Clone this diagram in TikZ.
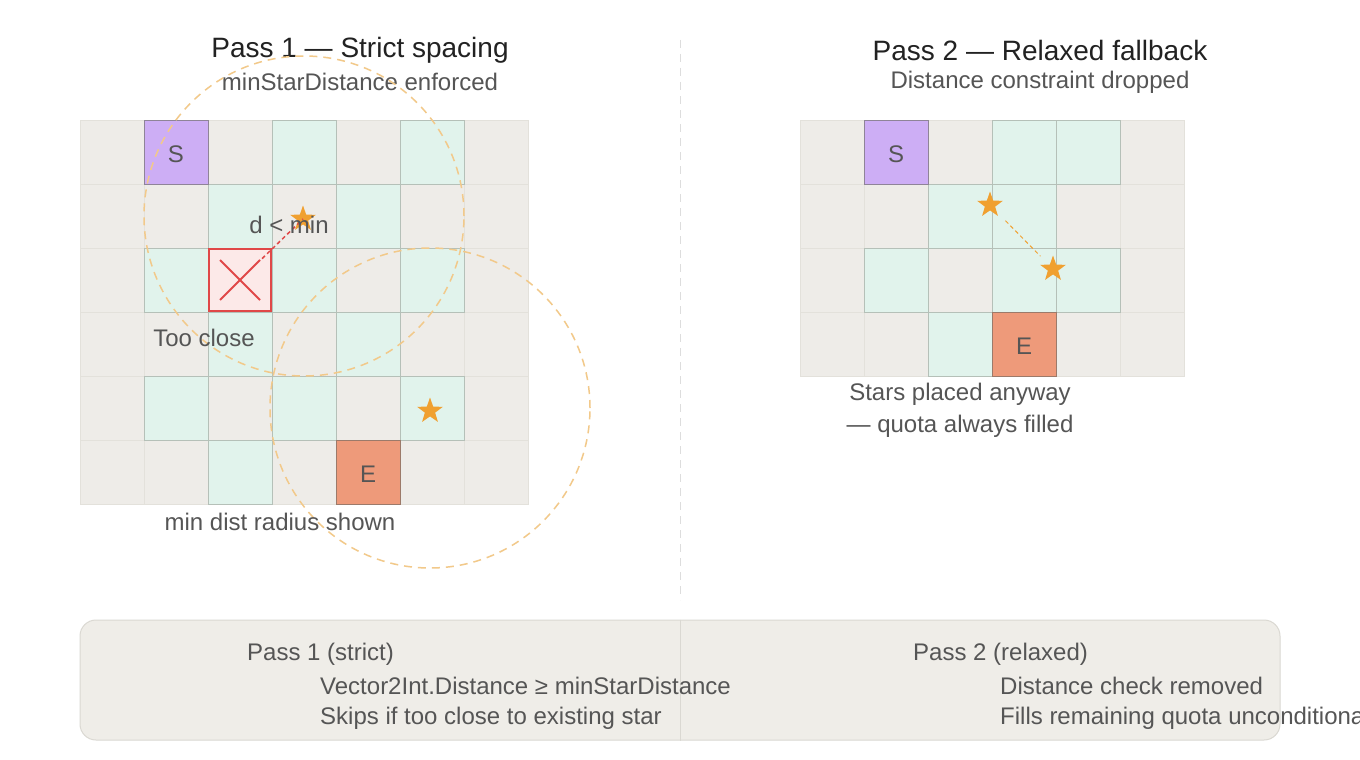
\documentclass[tikz,border=0pt]{standalone}
\usepackage{fontspec}
\setmainfont{Liberation Sans}
\usetikzlibrary{shapes.geometric,calc}
\definecolor{cellgray}{HTML}{EEECE8}
\definecolor{cellline}{HTML}{E3E1DB}
\definecolor{tealfill}{HTML}{E1F3EC}
\definecolor{tealline}{HTML}{B5C0B8}
\definecolor{sfill}{HTML}{CDAEF5}
\definecolor{sline}{HTML}{8F8498}
\definecolor{efill}{HTML}{EE9A7A}
\definecolor{eline}{HTML}{9C7A6A}
\definecolor{xred}{HTML}{E04848}
\definecolor{xfill}{HTML}{FCE9E8}
\definecolor{starc}{HTML}{F0A030}
\definecolor{circc}{HTML}{F2C98A}
\definecolor{txt}{HTML}{555555}
\definecolor{ttl}{HTML}{222222}
\definecolor{panelfill}{HTML}{EFEDE8}
\definecolor{panelline}{HTML}{DAD8D2}
\definecolor{divc}{HTML}{DDDDDD}
\tikzset{
  gcell/.style={draw=cellline, fill=cellgray, line width=1pt, minimum size=64pt, inner sep=0pt},
  tcell/.style={draw=tealline, fill=tealfill, line width=1pt, minimum size=64pt, inner sep=0pt},
  scell/.style={draw=sline, fill=sfill, line width=1pt, minimum size=64pt, inner sep=0pt, text=txt, font=\fontsize{24}{28}\selectfont, text depth=0pt, text height=20pt},
  ecell/.style={draw=eline, fill=efill, line width=1pt, minimum size=64pt, inner sep=0pt, text=txt, font=\fontsize{24}{28}\selectfont, text depth=0pt, text height=20pt},
  xcellst/.style={draw=xred, fill=xfill, line width=2.5pt, minimum size=62pt, inner sep=0pt},
  starnode/.style={star, star points=5, star point ratio=2.5, fill=starc, draw=none, minimum size=27pt, inner sep=0pt},
  rangecirc/.style={draw=circc, line width=1.5pt, dash pattern=on 8pt off 6pt},
  ttlfont/.style={font=\fontsize{28}{32}\selectfont, text=ttl, inner sep=0pt},
  lbl/.style={font=\fontsize{24}{28}\selectfont, text=txt, inner sep=0pt},
}
\begin{document}
\begin{tikzpicture}[x=1pt,y=-1pt]
\useasboundingbox (0,0) rectangle (1360,760);
\fill[white] (0,0) rectangle (1360,760);

% titles
\node[ttlfont] (t1) at (360,50) {Pass 1 — Strict spacing};
\node[lbl] (s1) at (360,82) {minStarDistance enforced};
\node[ttlfont] (t2) at (1040,50) {Pass 2 — Relaxed fallback};
\node[lbl] (s2) at (1040,82) {Distance constraint dropped};

% divider
\coordinate (dtop) at (680,40);
\coordinate (dbot) at (680,600);
\draw[divc, line width=1pt, dash pattern=on 8pt off 6pt] (dtop) -- (dbot);

% left grid
\foreach \c in {0,...,6}{
  \foreach \r in {0,...,5}{
    \node[gcell] (L-\c-\r) at ({112+64*\c},{152+64*\r}) {};
  }
}
\foreach \c/\r in {3/0,5/0,2/1,4/1,1/2,3/2,5/2,2/3,4/3,1/4,3/4,5/4,2/5}{
  \node[tcell] (LT-\c-\r) at ({112+64*\c},{152+64*\r}) {};
}
\node[scell] (S1) at (176,152) {S};
\node[ecell] (E1) at (368,472) {E};
\node[xcellst] (X1) at (240,280) {};
\draw[xred, line width=2pt] (220,260) -- (260,300);
\draw[xred, line width=2pt] (220,300) -- (260,260);

% right grid
\foreach \c in {0,...,5}{
  \foreach \r in {0,...,3}{
    \node[gcell] (R-\c-\r) at ({832+64*\c},{152+64*\r}) {};
  }
}
\foreach \c/\r in {3/0,4/0,2/1,3/1,1/2,3/2,4/2,2/3}{
  \node[tcell] (RT-\c-\r) at ({832+64*\c},{152+64*\r}) {};
}
\node[scell] (S2) at (896,152) {S};
\node[ecell] (E2) at (1024,344) {E};

% stars
\node[starnode] (st1) at (303,219) {};
\node[starnode] (st2) at (430,411) {};
\node[starnode] (st3) at (990,205) {};
\node[starnode] (st4) at (1053,269) {};

% distance circles
\draw[rangecirc] (304,216) circle[radius=160pt];
\draw[rangecirc] (430,408) circle[radius=160pt];

% connectors
\draw[xred, line width=1.5pt, dash pattern=on 4pt off 3pt] ($(X1.center)!0.35!(st1.center)$) -- (st1.center);
\draw[starc, line width=1pt, dash pattern=on 4pt off 3pt, shorten <=22pt, shorten >=18pt] (st3.center) -- (st4.center);

% labels
\node[lbl] (dmin) at (289,225) {d < min};
\node[lbl] (tooclose) at (204,338) {Too close};
\node[lbl] (mindist) at (280,522) {min dist radius shown};
\node[lbl] (placed) at (960,394) {Stars placed anyway};
\node[lbl] (quota) at (960,426) {— quota always filled};

% bottom panel
\node[draw=panelline, fill=panelfill, line width=1pt, rounded corners=16pt, minimum width=1200pt, minimum height=120pt, inner sep=0pt] (panel) at (680,680) {};
\draw[panelline, line width=1pt] (panel.north) -- (panel.south);
\node[lbl, anchor=west] (p1) at (247,654) {Pass 1 (strict)};
\node[lbl, anchor=west] (p1a) at (320,686) {Vector2Int.Distance ≥ minStarDistance};
\node[lbl, anchor=west] (p1b) at (320,718) {Skips if too close to existing star};
\node[lbl, anchor=west] (p2) at (913,654) {Pass 2 (relaxed)};
\node[lbl, anchor=west] (p2a) at (1000,686) {Distance check removed};
\node[lbl, anchor=west] (p2b) at (1000,718) {Fills remaining quota unconditionally};
\end{tikzpicture}
\end{document}
